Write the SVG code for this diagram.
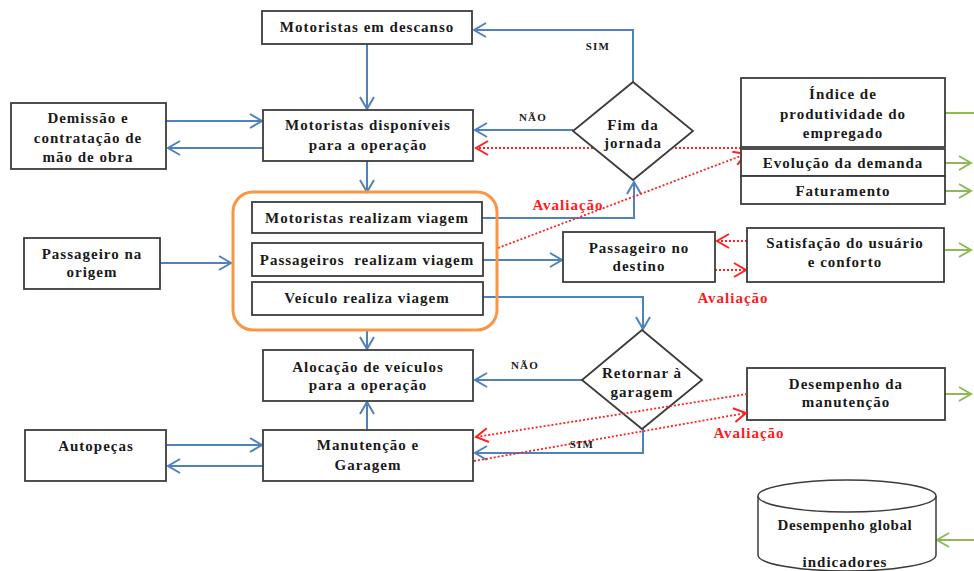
<svg xmlns="http://www.w3.org/2000/svg" width="974" height="571" viewBox="0 0 974 571">
<defs>
<style>
.box{fill:#fff;stroke:#3c3c3c;stroke-width:1.8}
.t{font-family:"Liberation Serif","Times New Roman",serif;font-weight:bold;font-size:15px;letter-spacing:1px;fill:#1a1a1a;text-anchor:middle}
.s{font-family:"Liberation Serif","Times New Roman",serif;font-weight:bold;font-size:11px;letter-spacing:1.2px;fill:#1a1a1a;text-anchor:middle}
.r{font-family:"Liberation Serif","Times New Roman",serif;font-weight:bold;font-size:15px;letter-spacing:1px;fill:#ff1a1a;text-anchor:middle}
.b{fill:none;stroke:#4f81bd;stroke-width:2}
.g{fill:none;stroke:#8fb857;stroke-width:2}
.d{fill:none;stroke:#ff2020;stroke-width:1.8;stroke-dasharray:2 2}
</style>
<marker id="ab" markerUnits="userSpaceOnUse" markerWidth="16" markerHeight="16" refX="13" refY="8" orient="auto"><path d="M1,1 L13,8 L1,15" fill="none" stroke="#4f81bd" stroke-width="2"/></marker>
<marker id="ag" markerUnits="userSpaceOnUse" markerWidth="16" markerHeight="16" refX="13" refY="8" orient="auto"><path d="M1,1 L13,8 L1,15" fill="none" stroke="#8fb857" stroke-width="2"/></marker>
<marker id="ar" markerUnits="userSpaceOnUse" markerWidth="16" markerHeight="16" refX="13" refY="8" orient="auto"><path d="M1,1 L13,8 L1,15" fill="none" stroke="#ff2020" stroke-width="2"/></marker>
</defs>
<rect width="974" height="571" fill="#fff"/>

<g id="connectors">
<path class="b" d="M633,82 V30 H474" marker-end="url(#ab)"/>
<path class="b" d="M367,44 V109" marker-end="url(#ab)"/>
<path class="b" d="M166,121 H262" marker-end="url(#ab)"/>
<path class="b" d="M263,148 H168" marker-end="url(#ab)"/>
<path class="b" d="M573,130 H475" marker-end="url(#ab)"/>
<path class="d" d="M741,148 H476" marker-end="url(#ar)"/>
<path class="b" d="M367,161 V192" marker-end="url(#ab)"/>
<path class="b" d="M482,218 H634 V182" marker-end="url(#ab)"/>
<path class="d" d="M498,248 L746,154" marker-end="url(#ar)"/>
<path class="b" d="M483,260 H562" marker-end="url(#ab)"/>
<path class="d" d="M747,241 H717" marker-end="url(#ar)"/>
<path class="d" d="M715,270 H746" marker-end="url(#ar)"/>
<path class="b" d="M160,263 H231" marker-end="url(#ab)"/>
<path class="b" d="M482,297 H643 V329" marker-end="url(#ab)"/>
<path class="b" d="M367,330 V349" marker-end="url(#ab)"/>
<path class="b" d="M367,430 V402" marker-end="url(#ab)"/>
<path class="b" d="M582,380 H475" marker-end="url(#ab)"/>
<path class="b" d="M643,429 V453 H475" marker-end="url(#ab)"/>
<path class="b" d="M166,445 H262" marker-end="url(#ab)"/>
<path class="b" d="M263,466 H168" marker-end="url(#ab)"/>
<path class="g" d="M945,113 H974"/>
<path class="g" d="M945,163 H971" marker-end="url(#ag)"/>
<path class="g" d="M945,191 H971" marker-end="url(#ag)"/>
<path class="g" d="M945,250 H971" marker-end="url(#ag)"/>
<path class="g" d="M945,394 H971" marker-end="url(#ag)"/>
<path class="g" d="M974,540 H937" marker-end="url(#ag)"/>
</g>

<g id="descanso"><rect class="box" x="262" y="11" width="210" height="33"/><text class="t" x="367" y="32">Motoristas em descanso</text></g>
<g id="disponiveis"><rect class="box" x="263" y="110" width="210" height="51"/><text class="t" x="368" y="130">Motoristas disponíveis</text><text class="t" x="368" y="150">para a operação</text></g>
<g id="demissao"><rect class="box" x="11" y="103" width="155" height="66"/><text class="t" x="88" y="123">Demissão e</text><text class="t" x="88" y="143">contratação de</text><text class="t" x="88" y="162">mão de obra</text></g>
<g id="fim"><polygon class="box" points="633,82 693,131 633,180 573,131"/><text class="t" x="633" y="130">Fim da</text><text class="t" x="633" y="148">jornada</text></g>
<g id="indice"><rect class="box" x="741" y="78" width="204" height="69"/><text class="t" x="843" y="99">Índice de</text><text class="t" x="843" y="119">produtividade do</text><text class="t" x="843" y="138">empregado</text></g>
<g id="evolucao"><rect class="box" x="741" y="149" width="204" height="27"/><text class="t" x="843" y="168">Evolução da demanda</text></g>
<g id="faturamento"><rect class="box" x="741" y="176" width="204" height="28"/><text class="t" x="843" y="196">Faturamento</text></g>
<g id="viagem">
<rect x="233" y="192" width="264" height="138" rx="20" fill="none" stroke="#f79646" stroke-width="3"/>
<g id="motoristas-viagem"><rect class="box" x="252" y="202" width="230" height="31"/><text class="t" x="367" y="223">Motoristas realizam viagem</text></g>
<g id="passageiros-viagem"><rect class="box" x="252" y="243" width="231" height="33"/><text class="t" x="367" y="265" xml:space="preserve">Passageiros  realizam viagem</text></g>
<g id="veiculo-viagem"><rect class="box" x="252" y="282" width="231" height="33"/><text class="t" x="367" y="303">Veículo realiza viagem</text></g>
</g>
<g id="origem"><rect class="box" x="24" y="238" width="136" height="51"/><text class="t" x="92" y="259">Passageiro na</text><text class="t" x="92" y="277">origem</text></g>
<g id="destino"><rect class="box" x="563" y="232" width="152" height="50"/><text class="t" x="639" y="253">Passageiro no</text><text class="t" x="639" y="271">destino</text></g>
<g id="satisfacao"><rect class="box" x="747" y="228" width="197" height="54"/><text class="t" x="845" y="248">Satisfação do usuário</text><text class="t" x="845" y="267">e conforto</text></g>
<g id="alocacao"><rect class="box" x="263" y="350" width="210" height="51"/><text class="t" x="368" y="372">Alocação de veículos</text><text class="t" x="368" y="390">para a operação</text></g>
<g id="manutencao"><rect class="box" x="263" y="430" width="210" height="51"/><text class="t" x="368" y="450">Manutenção e</text><text class="t" x="368" y="470">Garagem</text></g>
<g id="autopecas"><rect class="box" x="25" y="430" width="141" height="51"/><text class="t" x="96" y="451">Autopeças</text></g>
<g id="retornar"><polygon class="box" points="642,330 702,380 642,429 582,380"/><text class="t" x="642" y="378">Retornar à</text><text class="t" x="642" y="397">garagem</text></g>
<g id="desempenho-manut"><rect class="box" x="747" y="368" width="198" height="52"/><text class="t" x="846" y="389">Desempenho da</text><text class="t" x="846" y="407">manutenção</text></g>
<g id="desempenho-global">
<path d="M758,496 V555 A89,16 0 0 0 936,555 V496" fill="#fff" stroke="#3c3c3c" stroke-width="1.5"/>
<ellipse cx="847" cy="496" rx="89" ry="16" fill="#fff" stroke="#3c3c3c" stroke-width="1.5"/>
<text class="t" x="845" y="530" style="letter-spacing:0.6px">Desempenho global</text><text class="t" x="845" y="567">indicadores</text>
</g>

<g id="red-over">
<path class="d" d="M747,394 L476,437" marker-end="url(#ar)"/>
<path class="d" d="M474,461 L746,413" marker-end="url(#ar)"/>
</g>

<g id="labels">
<text class="s" x="533" y="121">NÃO</text>
<text class="s" x="598" y="50">SIM</text>
<text class="s" x="525" y="369">NÃO</text>
<text class="s" x="582" y="448">SIM</text>
<text class="r" x="568" y="210">Avaliação</text>
<text class="r" x="733" y="303">Avaliação</text>
<text class="r" x="749" y="438">Avaliação</text>
</g>
</svg>
